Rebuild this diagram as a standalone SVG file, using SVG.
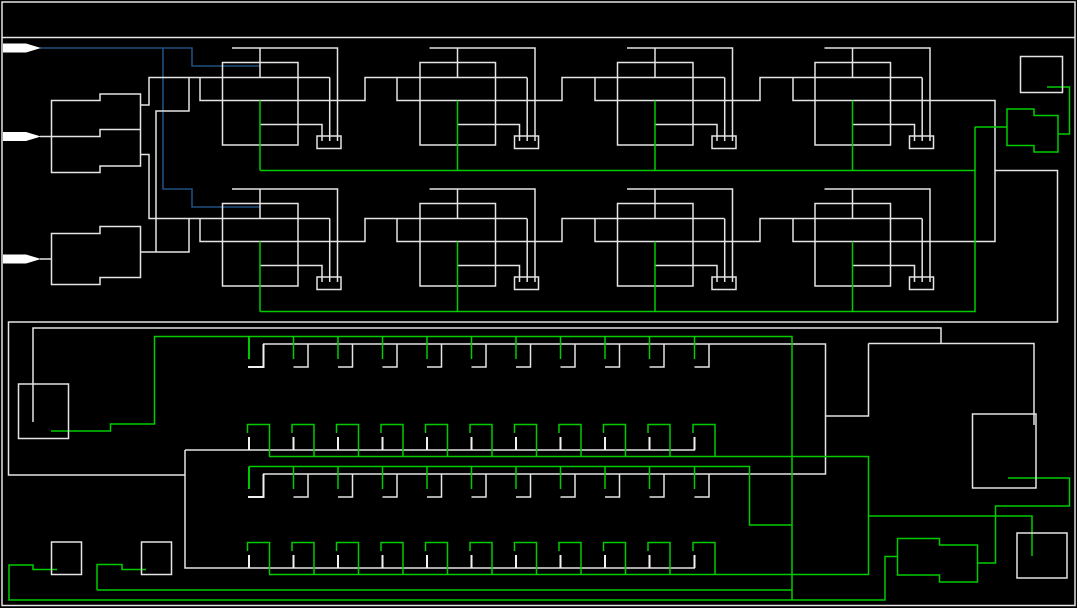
<svg xmlns="http://www.w3.org/2000/svg" xmlns:xlink="http://www.w3.org/1999/xlink" width="1077" height="608" viewBox="0 0 1077 608">
<style>
.w{fill:none;stroke:#e4e4e4;stroke-width:1.5}
.g{fill:none;stroke:#00cc00;stroke-width:1.5}
.b{fill:none;stroke:#1f5080;stroke-width:1.6}
.tw{fill:none;stroke:#f0f0f0;stroke-width:2}
.tg{fill:none;stroke:#00c800;stroke-width:2}
.a{fill:#fff;stroke:none}
</style>
<defs>
<g id="mod">
<rect class="w" x="222.500" y="62.500" width="75.500" height="82.500"/>
<path class="w" d="M232 48H337.500V141M260 48V77.500M260 124.500H322V141M329.700 77.500V141"/>
<path class="g" d="M260 100.500V170.500"/>
<rect class="w" x="317" y="136" width="24" height="12.500"/>
</g>
<g id="top"><path class="g" d="M0 336.500V359"/><path class="w" d="M0 367H14.500V344"/></g>
<g id="top0"><path class="tg" d="M0 336.500V359"/><path class="tw" d="M-1 367H14.500V344"/></g>
<g id="bot"><path class="g" d="M-1.500 433V424.500H20.500V456.500"/><path class="tw" d="M0 437V450"/></g>
<path id="arrow" class="a" d="M3 43.500H26L41 48L26 52.500H3Z"/>
</defs>
<rect width="1077" height="608" fill="#000"/>
<g id="frame"><rect class="w" x="2" y="2" width="1073" height="603.500"/><path class="w" d="M2 37.500H1075"/></g>
<g id="connectors">
<path class="b" d="M40 48H192V66H260M163 48V189H192V207H260"/>
<path class="w" d="M40 136.500H100V129.500H140.500M40 259H51.500M140.500 105H149V77.500H329.700M140.500 154.500H149V218.500H329.700M189 77.500V111H156V252M140.500 252H189V218.500"/>
<path class="w" d="M200 77.500V100.500H365V77.500H527M397 77.500V100.500H562V77.500H724.500M595 77.500V100.500H760V77.500H922M793 77.500V100.500H995V241.500H793V218.500H922M200 218.500V241.500H365V218.500H527M397 218.500V241.500H562V218.500H724.500M595 218.500V241.500H760V218.500H922"/>
<path class="w" d="M995 170.500H1057.500V322H8.500V475H185M185 450V568H695M185 450H695M33 422V328H941V343.500M868.500 343.500H1034V425M868.500 343.500V416H825.500M263 344H825.500V474H263"/>
<path class="g" d="M260 170.500H975M975 127V311.500H260M975 127H1007M1047 87H1069.500V134H1058"/>
<path class="g" d="M51 431H110.500V424H154.500V336.500H792V600M249 466.500H749.500V525H792M269 456.500H868.500V574.500H269M868.500 516H1032V556M1008 478H1069.500V506H995.500V563H978M897.500 556.500H885V600H9V565H33V569.500H57M97 590H792M97 590V564.500H122V569.500H146"/>
</g>
<g id="input-1"><use xlink:href="#arrow"/></g>
<g id="input-2"><use xlink:href="#arrow" y="88.500"/></g>
<g id="input-3"><use xlink:href="#arrow" y="211"/></g>
<g id="block-a"><path class="w" d="M51.500 100.500H100V94H140.500V166H100V172.500H51.500Z"/></g>
<g id="block-b"><path class="w" d="M51.500 233.500H100V226.500H140.500V277.500H100V284.500H51.500Z"/></g>
<g id="m1"><use xlink:href="#mod"/></g>
<g id="m2"><use xlink:href="#mod" x="197.500"/></g>
<g id="m3"><use xlink:href="#mod" x="395"/></g>
<g id="m4"><use xlink:href="#mod" x="592.500"/></g>
<g id="m5"><use xlink:href="#mod" y="141"/></g>
<g id="m6"><use xlink:href="#mod" x="197.500" y="141"/></g>
<g id="m7"><use xlink:href="#mod" x="395" y="141"/></g>
<g id="m8"><use xlink:href="#mod" x="592.500" y="141"/></g>
<g id="row-1">
<use xlink:href="#top0" x="249"/><use xlink:href="#top" x="293.500"/><use xlink:href="#top" x="338"/><use xlink:href="#top" x="382.500"/><use xlink:href="#top" x="427"/><use xlink:href="#top" x="471.500"/><use xlink:href="#top" x="516"/><use xlink:href="#top" x="560.500"/><use xlink:href="#top" x="605"/><use xlink:href="#top" x="649.500"/><use xlink:href="#top" x="694.500"/>
</g>
<g id="row-2">
<use xlink:href="#bot" x="249"/><use xlink:href="#bot" x="293.500"/><use xlink:href="#bot" x="338"/><use xlink:href="#bot" x="382.500"/><use xlink:href="#bot" x="427"/><use xlink:href="#bot" x="471.500"/><use xlink:href="#bot" x="516"/><use xlink:href="#bot" x="560.500"/><use xlink:href="#bot" x="605"/><use xlink:href="#bot" x="649.500"/><use xlink:href="#bot" x="694.500"/>
</g>
<g id="row-3">
<use xlink:href="#top0" x="249" y="130"/><use xlink:href="#top" x="293.500" y="130"/><use xlink:href="#top" x="338" y="130"/><use xlink:href="#top" x="382.500" y="130"/><use xlink:href="#top" x="427" y="130"/><use xlink:href="#top" x="471.500" y="130"/><use xlink:href="#top" x="516" y="130"/><use xlink:href="#top" x="560.500" y="130"/><use xlink:href="#top" x="605" y="130"/><use xlink:href="#top" x="649.500" y="130"/><use xlink:href="#top" x="694.500" y="130"/>
</g>
<g id="row-4">
<use xlink:href="#bot" x="249" y="118"/><use xlink:href="#bot" x="293.500" y="118"/><use xlink:href="#bot" x="338" y="118"/><use xlink:href="#bot" x="382.500" y="118"/><use xlink:href="#bot" x="427" y="118"/><use xlink:href="#bot" x="471.500" y="118"/><use xlink:href="#bot" x="516" y="118"/><use xlink:href="#bot" x="560.500" y="118"/><use xlink:href="#bot" x="605" y="118"/><use xlink:href="#bot" x="649.500" y="118"/><use xlink:href="#bot" x="694.500" y="118"/>
</g>
<g id="box-tr"><rect class="w" x="1020.500" y="56.500" width="42" height="36"/></g>
<g id="gate-tr"><path class="g" d="M1007 109H1034V115.500H1058V152H1034V145.500H1007Z"/></g>
<g id="gate-br"><path class="g" d="M897.500 538.500H939.500V545H977.500V582H939.500V575H897.500Z"/></g>
<g id="box-l"><rect class="w" x="18.500" y="384" width="50" height="54.500"/></g>
<g id="box-r1"><rect class="w" x="972.500" y="414" width="63.500" height="74"/></g>
<g id="box-r2"><rect class="w" x="1017" y="533" width="50" height="45"/></g>
<g id="box-b1"><rect class="w" x="51.500" y="542" width="30" height="32.500"/></g>
<g id="box-b2"><rect class="w" x="141.500" y="542" width="30" height="32.500"/></g>
</svg>
